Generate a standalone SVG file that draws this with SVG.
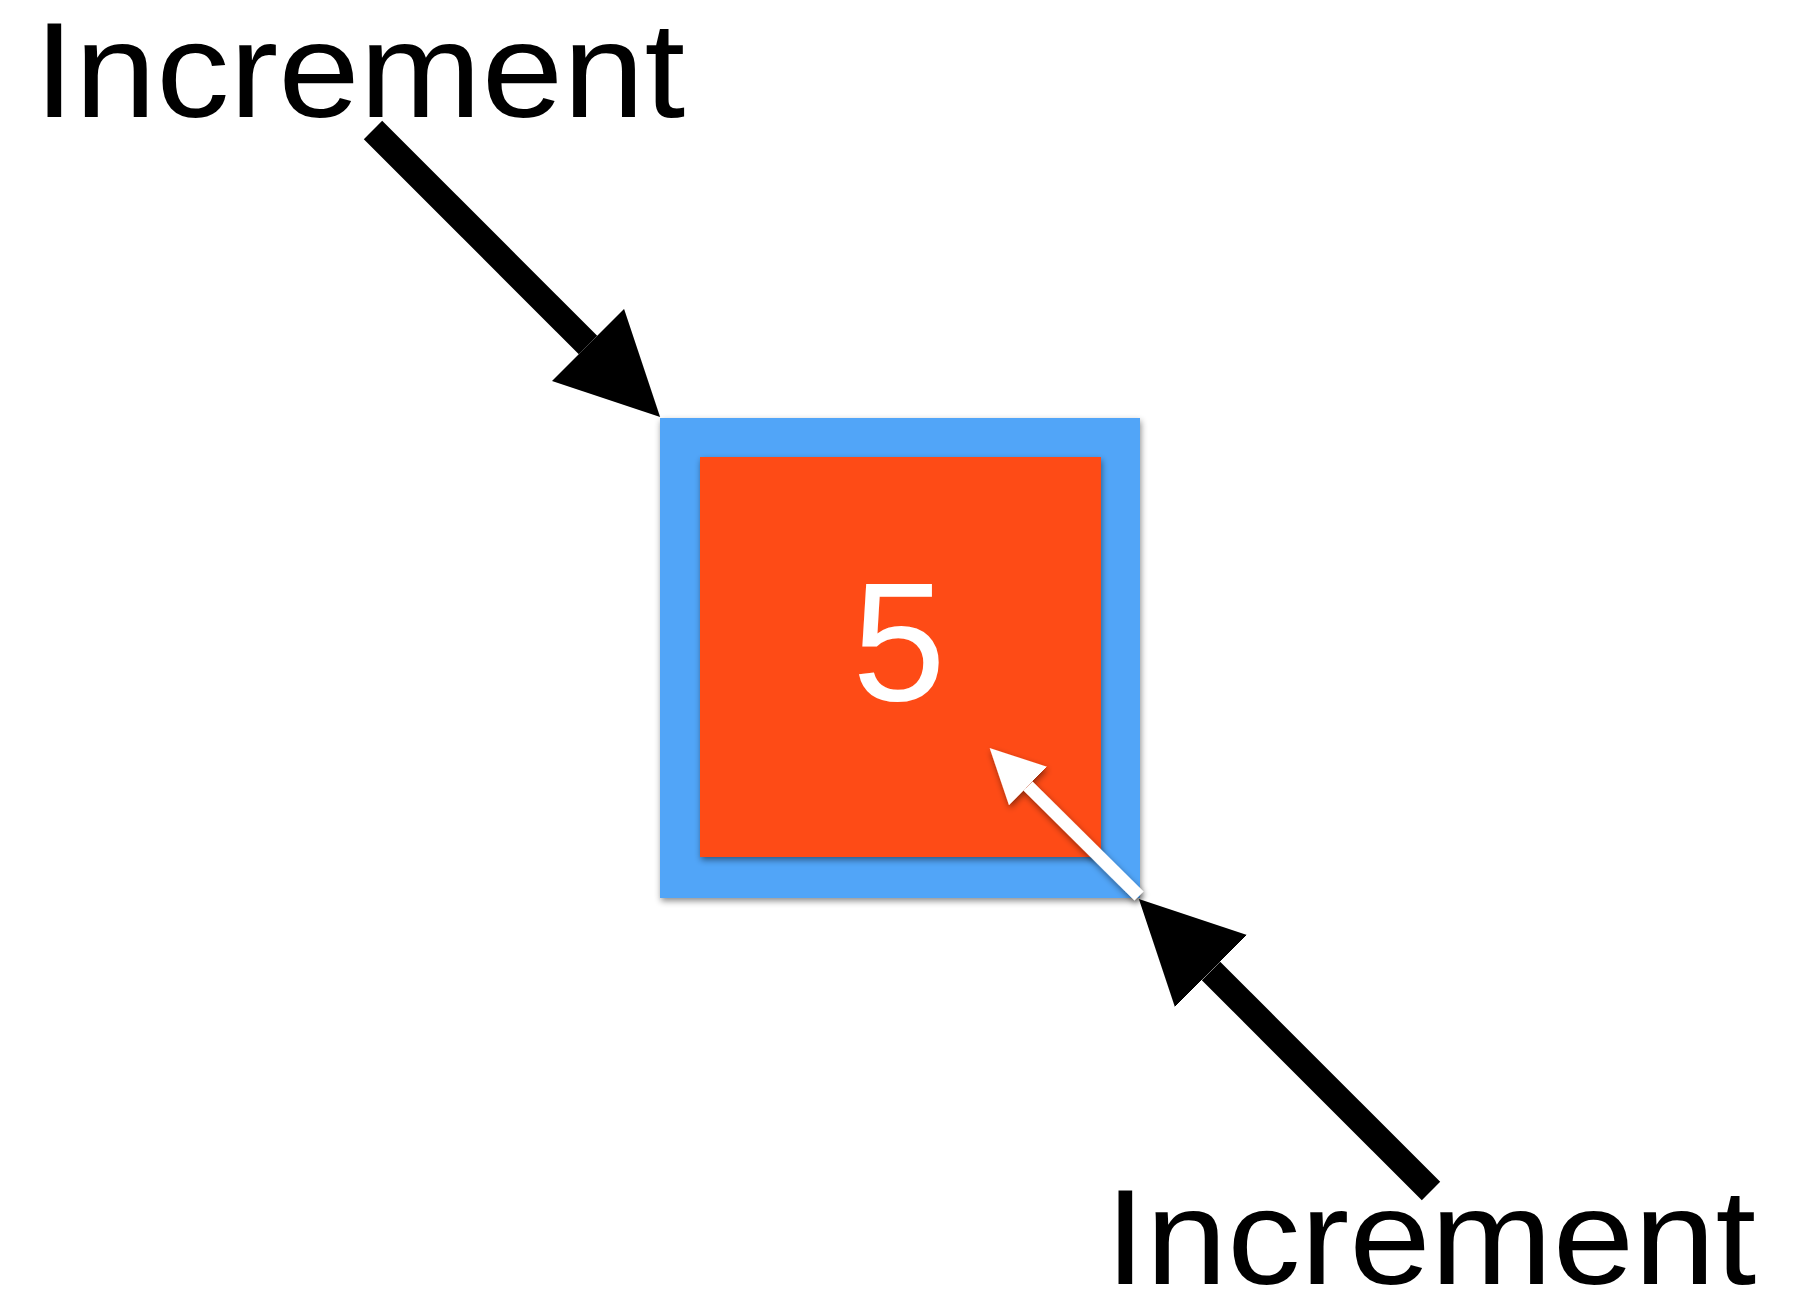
<svg xmlns="http://www.w3.org/2000/svg" width="1810" height="1294" viewBox="0 0 1810 1294">
<defs>
<style>
.lbl{font-family:"Liberation Sans",Arial,sans-serif;font-size:136px;fill:#000}
.num{font-family:"Liberation Sans",Arial,sans-serif;font-size:168px;fill:#fff;text-anchor:middle}
.blk{stroke:#000;stroke-width:26;fill:none;stroke-linecap:butt}
.wht{stroke:#fff;stroke-width:13;fill:none;stroke-linecap:butt}
</style>
<filter id="sh" filterUnits="userSpaceOnUse" x="0" y="0" width="1810" height="1294">
<feDropShadow dx="1" dy="3" stdDeviation="3" flood-color="#000" flood-opacity="0.45"/>
</filter>
<marker id="hb" markerUnits="userSpaceOnUse" viewBox="0 0 102 102" markerWidth="102" markerHeight="102" refX="0" refY="51" orient="auto">
<path d="M0,0 L102,51 L0,102 Z" fill="#000"/>
</marker>
<marker id="hw" markerUnits="userSpaceOnUse" viewBox="0 0 54 54" markerWidth="54" markerHeight="54" refX="0" refY="27" orient="auto">
<path d="M0,0 L54,27 L0,54 Z" fill="#fff"/>
</marker>
</defs>
<rect width="1810" height="1294" fill="#fff"/>
<g id="label-top"><text class="lbl" transform="translate(34 117) scale(1.077 1)" x="0" y="0">Increment</text></g>
<g id="label-bottom"><text class="lbl" transform="translate(1105 1284) scale(1.077 1)" x="0" y="0">Increment</text></g>
<g id="node-box">
<rect x="660" y="418" width="480" height="480" fill="#51A5F8" filter="url(#sh)"/>
<rect x="700" y="457" width="401" height="400" fill="#FE4B18" filter="url(#sh)"/>
<text class="num" x="899" y="700">5</text>
</g>
<g id="connectors">
<line class="blk" x1="373" y1="130" x2="588" y2="345" marker-end="url(#hb)"/>
<line class="blk" x1="1431" y1="1191" x2="1211" y2="971" marker-end="url(#hb)"/>
<g filter="url(#sh)"><line class="wht" x1="1139" y1="896" x2="1028" y2="786" marker-end="url(#hw)"/></g>
</g>
</svg>
